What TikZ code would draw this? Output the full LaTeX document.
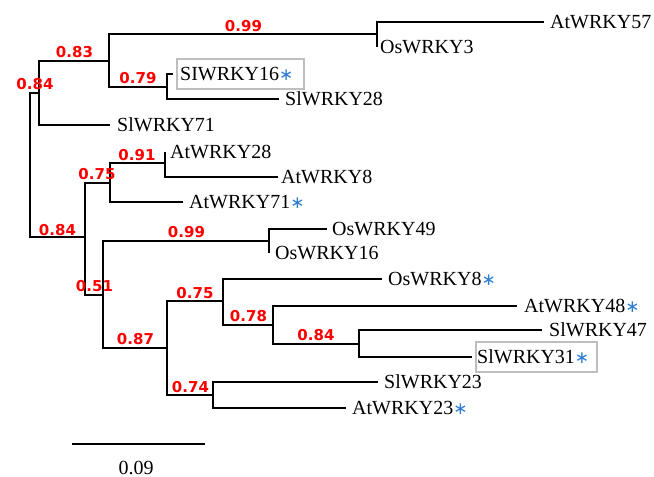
\documentclass[tikz,border=0pt]{standalone}
\usepackage{fontspec}
\setmainfont{Liberation Serif}
\newfontfamily\labfont{DejaVu Sans}
\newfontfamily\symfont{DejaVu Sans}
\definecolor{astblue}{RGB}{45,125,210}
\definecolor{boxgray}{RGB}{190,190,190}
\newcommand{\bstar}{{\color{astblue}\symfont\fontsize{17}{20}\selectfont ∗}}
\tikzset{
  branch/.style={line width=2.2pt, line join=miter, draw=black},
  leaf/.style={anchor=west, inner ysep=0pt, text height=13.2pt, text depth=0pt, font=\fontsize{20}{24}\selectfont},
  boot/.style={text=red, font=\labfont\bfseries\fontsize{15}{18}\selectfont, inner sep=0pt, text height=10.9pt, text depth=0pt},
  gbox/.style={draw=boxgray, line width=1.2pt, inner sep=0pt},
}
\begin{document}
\begin{tikzpicture}[x=1pt,y=-1pt]
\useasboundingbox (0,0) rectangle (654,477);
% internal nodes
\coordinate (R) at (30,165);
\coordinate (A) at (39,93);
\coordinate (B) at (85,237);
\coordinate (C) at (109,61);
\coordinate (D) at (377,34);
\coordinate (E) at (167,87);
\coordinate (F) at (110,183);
\coordinate (H) at (165,163);
\coordinate (G) at (103,295);
\coordinate (I) at (269,241);
\coordinate (J) at (167,348);
\coordinate (K) at (223,301);
\coordinate (M) at (273,325);
\coordinate (N) at (359,344);
\coordinate (L) at (213,395);
% boxes
\node[gbox, minimum width=127pt, minimum height=30pt] (bx16) at (240.5,74) {};
\node[gbox, minimum width=121pt, minimum height=30pt] (bx31) at (536.5,357) {};
% leaves
\node[leaf, inner xsep=6pt] (l57) at (544,22) {AtWRKY57};
\node[leaf, inner xsep=3pt] (l3) at (377,47) {OsWRKY3};
\node[leaf, inner xsep=7pt] (l16) at (173,74) {SIWRKY16\bstar};
\node[leaf, inner xsep=6pt] (l28) at (279,99) {SlWRKY28};
\node[leaf, inner xsep=7pt] (l71) at (110,125) {SlWRKY71};
\node[leaf, inner xsep=5pt] (a28) at (165,152) {AtWRKY28};
\node[leaf, inner xsep=3pt] (a8) at (278,177) {AtWRKY8};
\node[leaf, inner xsep=6pt] (a71) at (183,202) {AtWRKY71\bstar};
\node[leaf, inner xsep=5pt] (o49) at (327,229) {OsWRKY49};
\node[leaf, inner xsep=6pt] (o16) at (269,253) {OsWRKY16};
\node[leaf, inner xsep=6pt] (o8) at (382,279) {OsWRKY8\bstar};
\node[leaf, inner xsep=7pt] (a48) at (517,306) {AtWRKY48\bstar};
\node[leaf, inner xsep=7pt] (l47) at (542,330) {SlWRKY47};
\node[leaf, inner xsep=5pt] (l31) at (472,357) {SlWRKY31\bstar};
\node[leaf, inner xsep=6pt] (l23) at (378,382) {SlWRKY23};
\node[leaf, inner xsep=6pt] (a23) at (346,408) {AtWRKY23\bstar};
% branches
\draw[branch] (A) -| (R) |- (B);
\draw[branch] (C) -| (A) |- (l71.west);
\draw[branch] (D) -| (C) |- (E);
\draw[branch] (l57.west) -| (D) |- (l3.west);
\draw[branch] (l16.west) -| (E) |- (l28.west);
\draw[branch] (F) -| (B) |- (G);
\draw[branch] (H) -| (F) |- (a71.west);
\draw[branch] (a28.west) -| (H) |- (a8.west);
\draw[branch] (I) -| (G) |- (J);
\draw[branch] (o49.west) -| (I) |- (o16.west);
\draw[branch] (K) -| (J) |- (L);
\draw[branch] (o8.west) -| (K) |- (M);
\draw[branch] (a48.west) -| (M) |- (N);
\draw[branch] (l47.west) -| (N) |- (l31.west);
\draw[branch] (l23.west) -| (L) |- (a23.west);
% bootstrap values
\node[boot] (bD) at (243.5,26.5) {0.99};
\node[boot] (bC) at (74.5,52) {0.83};
\node[boot] (bA) at (35,84.5) {0.84};
\node[boot] (bE) at (138,78) {0.79};
\node[boot] (bH) at (137,155.5) {0.91};
\node[boot] (bF) at (97,174.5) {0.75};
\node[boot] (bB) at (57.5,230.5) {0.84};
\node[boot] (bI) at (186.5,232) {0.99};
\node[boot] (bG) at (94.5,286) {0.51};
\node[boot] (bK) at (195,293) {0.75};
\node[boot] (bM) at (248.5,316.5) {0.78};
\node[boot] (bJ) at (135.5,339.5) {0.87};
\node[boot] (bL) at (190.5,387) {0.74};
\node[boot] (bN) at (316,335.5) {0.84};
% scale bar
\coordinate (s1) at (72,444);
\coordinate (s2) at (205,444);
\draw[branch] (s1) -- (s2);
\node[anchor=base, inner sep=0pt, font=\fontsize{20}{24}\selectfont] (sl) at (136,474) {0.09};
\end{tikzpicture}
\end{document}
